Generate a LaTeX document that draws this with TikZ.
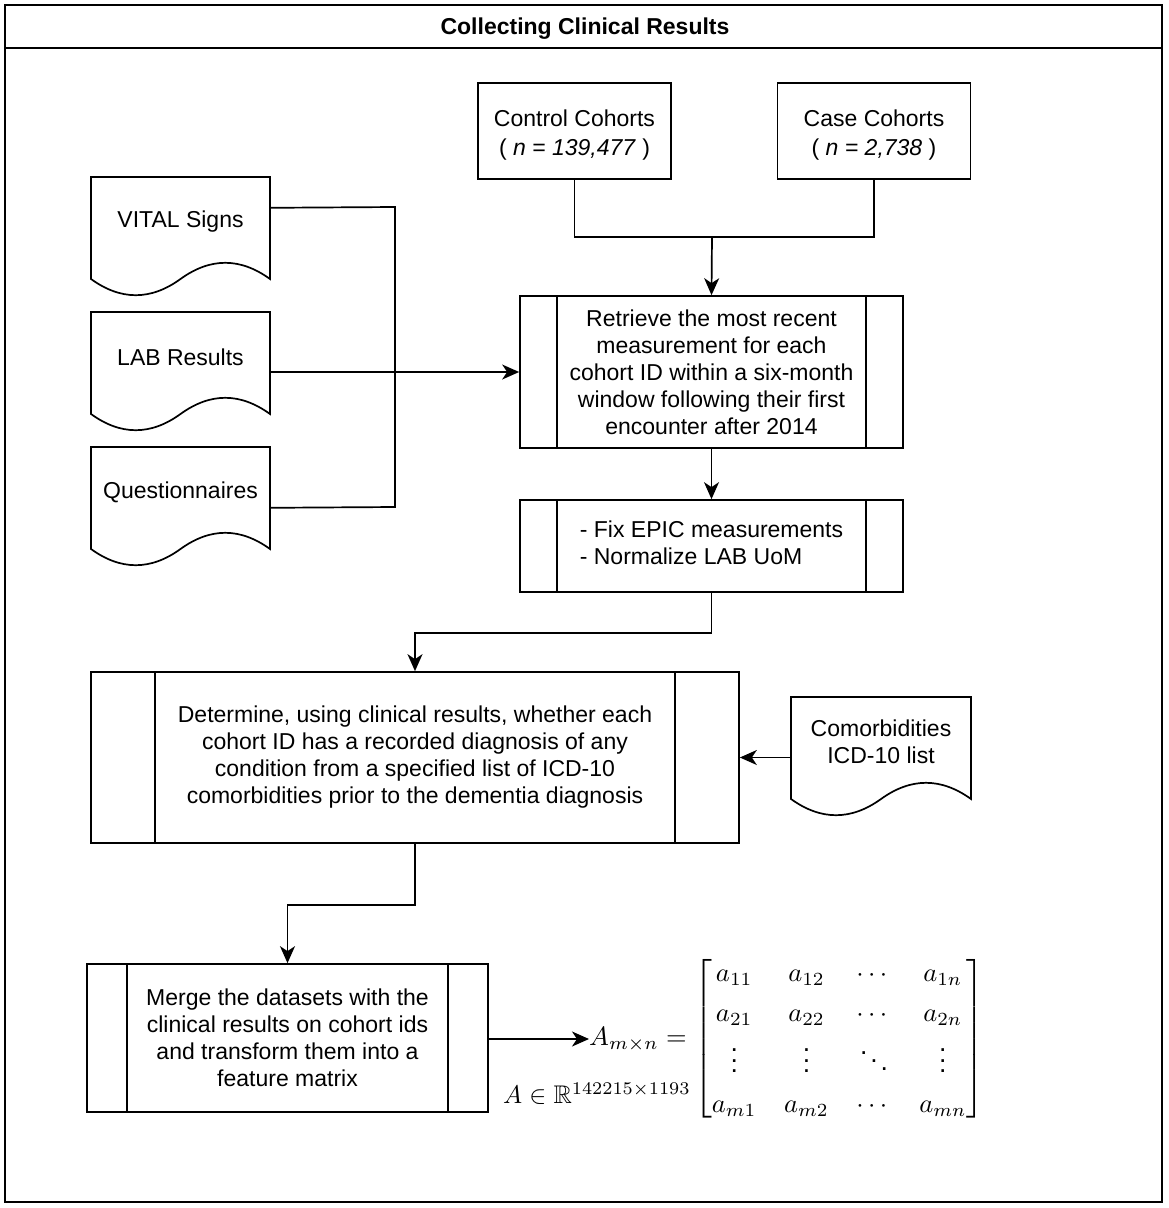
\documentclass[tikz,border=0pt]{standalone}
\usepackage[no-math]{fontspec}
\usepackage{amsmath,amssymb}
\usepackage{graphicx}
\setmainfont{Liberation Sans}
\usetikzlibrary{arrows.meta,calc}
\newcommand\bodyfont{\fontsize{23}{27}\selectfont}
\newcommand\docwave[3]{%
  \draw[conn] (#1,#2) -- (#1+#3,#2) -- (#1+#3,#2+102)
    .. controls (#1+#3*5/6,#2+80.4) and (#1+#3*2/3,#2+80.4) .. (#1+#3/2,#2+102)
    .. controls (#1+#3/3,#2+123.6) and (#1+#3/6,#2+123.6) .. (#1,#2+102) -- cycle;}
\newcommand\innerlines[2]{%
  \draw[conn] ($(#1.north west)+(#2,0)$) -- ($(#1.south west)+(#2,0)$);
  \draw[conn] ($(#1.north east)+(-#2,0)$) -- ($(#1.south east)+(-#2,0)$);}
\begin{document}
\begin{tikzpicture}[x=1pt,y=-1pt,
  conn/.style={line width=1.7pt, line join=miter},
  arr/.style={conn, -{Stealth[length=17pt,width=15pt,inset=5pt]}},
  proc/.style={draw, line width=1.7pt, rectangle, inner sep=0pt, align=center, font=\bodyfont},
  cbox/.style={draw, line width=1.7pt, rectangle, inner sep=0pt, align=center, font=\fontsize{23}{29}\selectfont, minimum width=193pt, minimum height=96pt},
  doc/.style={inner sep=0pt, minimum width=179pt, minimum height=88pt, align=center, font=\bodyfont}]
\useasboundingbox (0,0) rectangle (1169,1208);
% frame
\draw[line width=2pt] (5,5) rectangle (1162,1202);
\draw[line width=2pt] (5,48) -- (1162,48);
\node[font=\fontsize{23}{27}\selectfont\bfseries] (title) at (585,29) {Collecting Clinical Results};
% cohorts
\node[cbox] (ctrl) at (574.5,131) {\rule{0pt}{24pt}Control Cohorts\\( \textit{n = 139,477} )};
\node[cbox] (case) at (874,131) {\rule{0pt}{24pt}Case Cohorts\\( \textit{n = 2,738} )};
% documents
\docwave{91}{177}{179}
\node[doc] (vital) at (180.5,222) {VITAL Signs};
\docwave{91}{312}{179}
\node[doc] (lab) at (180.5,357) {LAB Results};
\docwave{91}{447}{179}
\node[doc] (quest) at (180.5,492) {Questionnaires};
\docwave{791}{697}{180}
\node[doc, minimum width=180pt] (comorb) at (881,742) {Comorbidities\\ICD-10 list};
% processes
\node[proc, minimum width=383pt, minimum height=152pt] (p1) at (711.5,372)
  {Retrieve the most recent\\measurement for each\\cohort ID within a six-month\\window following their first\\encounter after 2014};
\innerlines{p1}{38}
\node[proc, minimum width=383pt, minimum height=92pt] (p2) at (711.5,546)
  {\begin{tabular}{@{}l@{}}- Fix EPIC measurements\\- Normalize LAB UoM\end{tabular}};
\innerlines{p2}{38}
\node[proc, minimum width=648pt, minimum height=171pt] (p3) at (415,757.5)
  {Determine, using clinical results, whether each\\cohort ID has a recorded diagnosis of any\\condition from a specified list of ICD-10\\comorbidities prior to the dementia diagnosis};
\innerlines{p3}{65}
\node[proc, minimum width=401pt, minimum height=148pt] (p4) at (287.5,1038)
  {Merge the datasets with the\\clinical results on cohort ids\\and transform them into a\\feature matrix};
\innerlines{p4}{41}
% matrix
\node[inner sep=0pt, anchor=west] (mat) at (589,1039) {\scalebox{2.65}{$\renewcommand\arraystretch{1.25}\setlength\arraycolsep{5.2pt}A_{m\times n} = \begin{bmatrix} a_{11} & a_{12} & \cdots & a_{1n}\\ a_{21} & a_{22} & \cdots & a_{2n}\\ \vdots & \vdots & \ddots & \vdots\\ a_{m1} & a_{m2} & \cdots & a_{mn}\end{bmatrix}$}};
\node[inner sep=0pt] (dim) at (597,1094) {\scalebox{2.55}{$A \in \mathbb{R}^{142215\times 1193}$}};
% connectors
\coordinate (merge) at (712,237);
\draw[conn] (ctrl.south) |- (merge) -| (case.south);
\draw[arr] (merge) -- (p1.north);
\coordinate (bustop) at (395,207);
\coordinate (busbot) at (395,507);
\draw[conn] ($(vital.north east)+(0,30)$) -- (bustop) -- (busbot) -- ($(quest.north east)+(0,60)$);
\draw[arr] (lab.east |- p1.west) -- (p1.west);
\draw[arr] (p1.south) -- (p2.north);
\draw[arr] (p2.south) -- ++(0,40) -| (p3.north);
\draw[arr] (comorb.west |- p3.east) -- (p3.east);
\draw[arr] (p3.south) -- ++(0,61) -| (p4.north);
\draw[arr] (p4.east |- mat.west) -- (mat.west);
\end{tikzpicture}
\end{document}
